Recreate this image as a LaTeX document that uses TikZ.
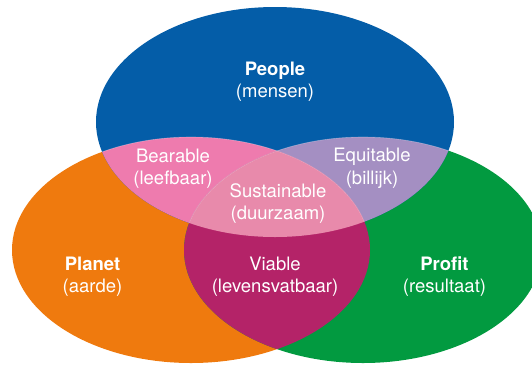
\documentclass[tikz,border=0pt]{standalone}
\usepackage{fontspec}
\setmainfont{TeX Gyre Heros}
\definecolor{cPeople}{HTML}{045DA8}
\definecolor{cPlanet}{HTML}{EF7A0E}
\definecolor{cProfit}{HTML}{029A40}
\definecolor{cBear}{HTML}{EE7BAE}
\definecolor{cEqui}{HTML}{A48FC2}
\definecolor{cViab}{HTML}{B42368}
\definecolor{cSust}{HTML}{E88AAB}
\begin{document}
\begin{tikzpicture}[x=1pt,y=-1pt,
  lbl/.style={text=white, align=center, inner sep=0pt,
    font=\fontsize{18.5}{22.5}\selectfont}]
\useasboundingbox (0,0) rectangle (532,365);
\clip (0,0) rectangle (532,365);
\def\peoplepath{(275,122) ellipse [x radius=179, y radius=115]}
\def\planetpath{(191,250) ellipse [x radius=179, y radius=113]}
\def\profitpath{(363,250) ellipse [x radius=179, y radius=113]}
% base ellipses
\fill[cPlanet] \planetpath;
\fill[cProfit] \profitpath;
\fill[cPeople] \peoplepath;
% pairwise intersections
\begin{scope}
  \clip \peoplepath;
  \fill[cBear] \planetpath;
  \fill[cEqui] \profitpath;
\end{scope}
\begin{scope}
  \clip \planetpath;
  \fill[cViab] \profitpath;
\end{scope}
% triple intersection
\begin{scope}
  \clip \peoplepath;
  \clip \planetpath;
  \fill[cSust] \profitpath;
\end{scope}
% faint outlines inside the people ellipse
\begin{scope}
  \clip \peoplepath;
  \draw[white, opacity=0.3, line width=0.6pt] \planetpath;
  \draw[white, opacity=0.3, line width=0.6pt] \profitpath;
\end{scope}
% labels
\node[lbl] (people) at (275,81.5) {\textbf{People}\\(mensen)};
\node[lbl] (bear) at (173,168.5) {Bearable\\(leefbaar)};
\node[lbl] (equi) at (372,168.5) {Equitable\\(billijk)};
\node[lbl] (sust) at (278,203.5) {Sustainable\\(duurzaam)};
\node[lbl] (planet) at (92.5,276.5) {\textbf{Planet}\\(aarde)};
\node[lbl] (viab) at (275,276.5) {Viable\\(levensvatbaar)};
\node[lbl] (profit) at (444.5,276.5) {\textbf{Profit}\\(resultaat)};
\end{tikzpicture}
\end{document}
